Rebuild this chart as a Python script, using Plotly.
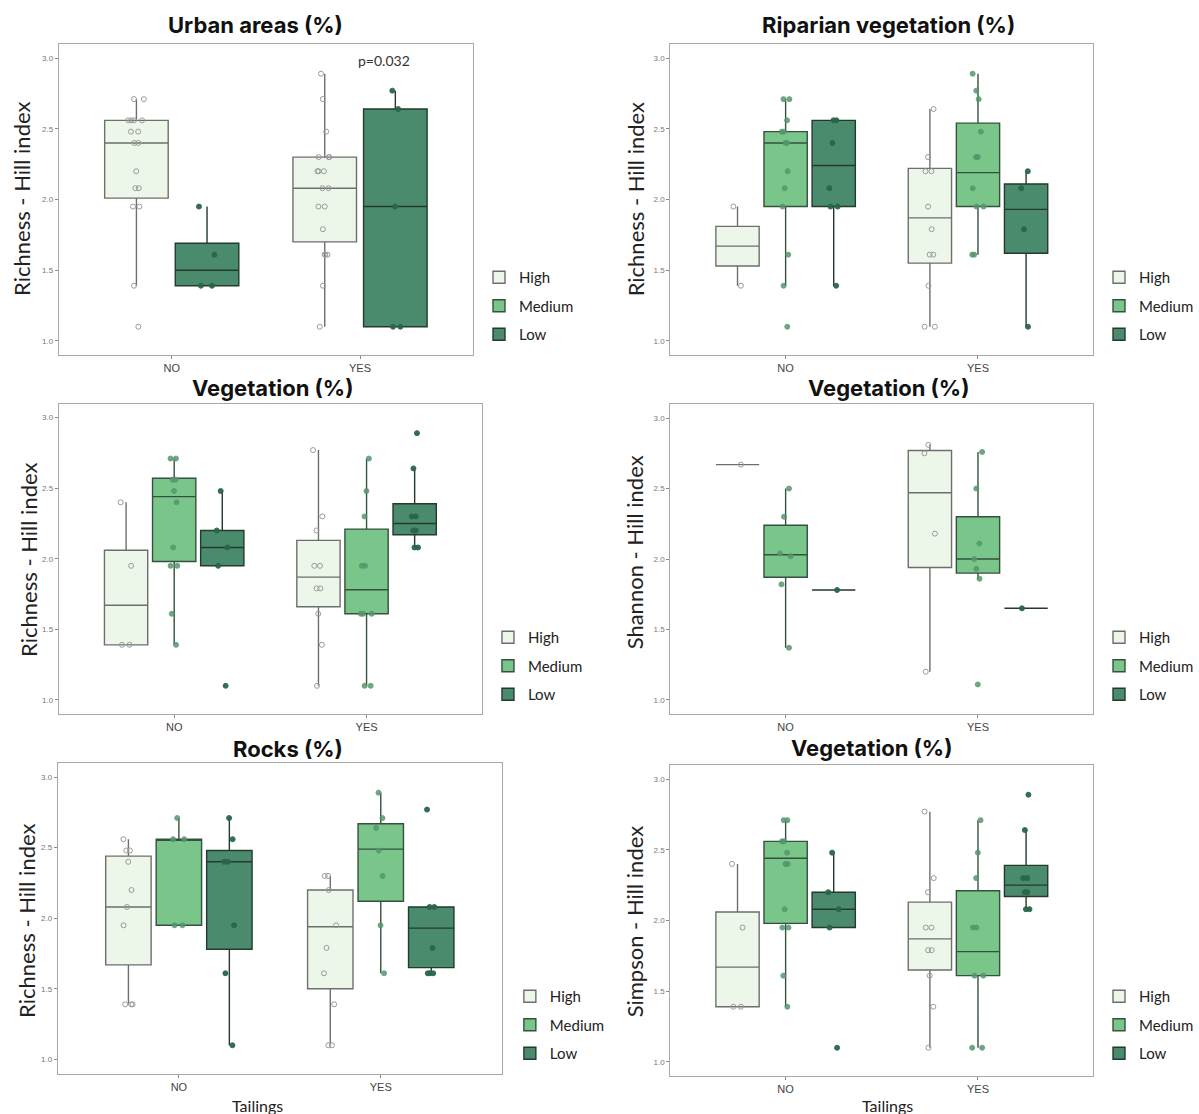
import plotly.graph_objects as go

W, H = 1199, 1114
GROUPS = ["High", "Medium", "Low"]
CATS = ["NO", "YES"]
TICK_VALS = [1.0, 1.5, 2.0, 2.5, 3.0]
TICK_TEXT = ["1.0", "1.5", "2.0", "2.5", "3.0"]

# box stats per category: [lower whisker, q1, median, q3, upper whisker]
# ---- Panel 1: Urban areas (%) ----
urban_high_box = [[1.39, 2.01, 2.40, 2.56, 2.71], [1.10, 1.70, 2.08, 2.30, 2.89]]
urban_high_pts = [[2.71, 2.71, 2.56, 2.56, 2.56, 2.56, 2.48, 2.48, 2.40, 2.40, 2.20, 2.08, 2.08, 1.95, 1.95, 1.39, 1.10],
                  [2.89, 2.71, 2.48, 2.30, 2.30, 2.30, 2.20, 2.20, 2.20, 2.08, 2.08, 1.95, 1.95, 1.79, 1.61, 1.61, 1.61, 1.39, 1.10]]
urban_low_box = [[1.39, 1.39, 1.50, 1.69, 1.95], [1.10, 1.10, 1.95, 2.64, 2.77]]
urban_low_pts = [[1.95, 1.61, 1.39, 1.39], [2.77, 2.64, 1.95, 1.10, 1.10]]

# ---- Panel 2: Riparian vegetation (%) ----
riparian_high_box = [[1.39, 1.53, 1.67, 1.81, 1.95], [1.10, 1.55, 1.87, 2.22, 2.64]]
riparian_high_pts = [[1.95, 1.39], [2.64, 2.30, 2.20, 2.20, 1.95, 1.79, 1.61, 1.61, 1.39, 1.10, 1.10]]
riparian_med_box = [[1.39, 1.95, 2.40, 2.48, 2.71], [1.61, 1.95, 2.19, 2.54, 2.89]]
riparian_med_pts = [[2.71, 2.71, 2.56, 2.48, 2.48, 2.40, 2.40, 2.20, 2.08, 1.95, 1.61, 1.39, 1.10],
                    [2.89, 2.77, 2.71, 2.48, 2.30, 2.30, 2.08, 1.95, 1.95, 1.61, 1.61]]
riparian_low_box = [[1.39, 1.95, 2.24, 2.56, 2.56], [1.10, 1.62, 1.93, 2.11, 2.20]]
riparian_low_pts = [[2.56, 2.56, 2.40, 2.08, 1.95, 1.95, 1.39], [2.20, 2.08, 1.79, 1.10]]

# ---- Panel 3: Vegetation (%) - Richness ----
vegrich_high_box = [[1.39, 1.39, 1.67, 2.06, 2.40], [1.10, 1.66, 1.87, 2.13, 2.77]]
vegrich_high_pts = [[2.40, 1.95, 1.39, 1.39], [2.77, 2.30, 2.20, 1.95, 1.95, 1.79, 1.79, 1.61, 1.39, 1.10]]
vegrich_med_box = [[1.39, 1.98, 2.44, 2.57, 2.71], [1.10, 1.61, 1.78, 2.21, 2.71]]
vegrich_med_pts = [[2.71, 2.71, 2.56, 2.56, 2.48, 2.40, 2.08, 1.95, 1.95, 1.61, 1.39],
                   [2.71, 2.48, 2.30, 1.95, 1.95, 1.61, 1.61, 1.61, 1.10, 1.10]]
vegrich_low_box = [[1.95, 1.95, 2.08, 2.20, 2.48], [2.08, 2.17, 2.25, 2.39, 2.64]]
vegrich_low_pts = [[2.48, 2.20, 2.08, 1.95, 1.10], [2.89, 2.64, 2.30, 2.30, 2.20, 2.20, 2.08, 2.08]]

# ---- Panel 4: Vegetation (%) - Shannon ----
vegshan_high_box = [[2.67, 2.67, 2.67, 2.67, 2.67], [1.20, 1.94, 2.47, 2.77, 2.81]]
vegshan_high_pts = [[2.67], [2.81, 2.75, 2.18, 1.20]]
vegshan_med_box = [[1.37, 1.87, 2.03, 2.24, 2.50], [1.86, 1.90, 2.00, 2.30, 2.76]]
vegshan_med_pts = [[2.50, 2.30, 2.04, 2.02, 1.82, 1.37], [2.76, 2.50, 2.11, 2.00, 1.93, 1.86, 1.11]]
vegshan_low_box = [[1.78, 1.78, 1.78, 1.78, 1.78], [1.65, 1.65, 1.65, 1.65, 1.65]]
vegshan_low_pts = [[1.78], [1.65]]

# ---- Panel 5: Rocks (%) ----
rocks_high_box = [[1.39, 1.67, 2.08, 2.44, 2.56], [1.10, 1.50, 1.94, 2.20, 2.30]]
rocks_high_pts = [[2.56, 2.48, 2.48, 2.40, 2.20, 2.08, 1.95, 1.39, 1.39, 1.39],
                  [2.30, 2.30, 2.20, 1.95, 1.79, 1.61, 1.39, 1.10, 1.10]]
rocks_med_box = [[1.95, 1.95, 2.56, 2.56, 2.71], [1.61, 2.12, 2.49, 2.67, 2.89]]
rocks_med_pts = [[2.71, 2.56, 2.56, 1.95, 1.95], [2.89, 2.71, 2.64, 2.48, 2.30, 1.95, 1.61]]
rocks_low_box = [[1.10, 1.78, 2.40, 2.48, 2.71], [1.61, 1.65, 1.93, 2.08, 2.08]]
rocks_low_pts = [[2.71, 2.56, 2.40, 2.40, 1.95, 1.61, 1.10], [2.77, 2.08, 2.08, 1.79, 1.61, 1.61, 1.61]]

# ---- Panel 6: Vegetation (%) - Simpson ----
vegsimp_high_box = [[1.39, 1.39, 1.67, 2.06, 2.40], [1.10, 1.65, 1.87, 2.13, 2.77]]
vegsimp_high_pts = [[2.40, 1.95, 1.39, 1.39], [2.77, 2.30, 2.20, 1.95, 1.95, 1.79, 1.79, 1.61, 1.39, 1.10]]
vegsimp_med_box = [[1.39, 1.98, 2.44, 2.56, 2.71], [1.10, 1.61, 1.78, 2.21, 2.71]]
vegsimp_med_pts = [[2.71, 2.71, 2.56, 2.56, 2.48, 2.40, 2.40, 2.08, 1.95, 1.95, 1.61, 1.39],
                   [2.71, 2.48, 2.30, 1.95, 1.95, 1.61, 1.61, 1.10, 1.10]]
vegsimp_low_box = [[1.95, 1.95, 2.08, 2.20, 2.48], [2.08, 2.17, 2.25, 2.39, 2.64]]
vegsimp_low_pts = [[2.48, 2.20, 2.08, 1.95, 1.10], [2.89, 2.64, 2.30, 2.30, 2.20, 2.20, 2.08, 2.08]]

TITLES = ["Urban areas (%)", "Riparian vegetation (%)", "Vegetation (%)",
          "Vegetation (%)", "Rocks (%)", "Vegetation (%)"]
YTITLES = ["Richness - Hill index", "Richness - Hill index", "Richness - Hill index",
           "Shannon - Hill index", "Richness - Hill index", "Simpson - Hill index"]

PANEL_DATA = [
    {"High": (urban_high_box, urban_high_pts), "Medium": None, "Low": (urban_low_box, urban_low_pts)},
    {"High": (riparian_high_box, riparian_high_pts), "Medium": (riparian_med_box, riparian_med_pts),
     "Low": (riparian_low_box, riparian_low_pts)},
    {"High": (vegrich_high_box, vegrich_high_pts), "Medium": (vegrich_med_box, vegrich_med_pts),
     "Low": (vegrich_low_box, vegrich_low_pts)},
    {"High": (vegshan_high_box, vegshan_high_pts), "Medium": (vegshan_med_box, vegshan_med_pts),
     "Low": (vegshan_low_box, vegshan_low_pts)},
    {"High": (rocks_high_box, rocks_high_pts), "Medium": (rocks_med_box, rocks_med_pts),
     "Low": (rocks_low_box, rocks_low_pts)},
    {"High": (vegsimp_high_box, vegsimp_high_pts), "Medium": (vegsimp_med_box, vegsimp_med_pts),
     "Low": (vegsimp_low_box, vegsimp_low_pts)},
]

# ---- layout geometry (pixels) ----
PLOT_RECTS = [  # x0, x1, y0(top), y1(bottom)
    (59, 475, 44, 355), (673, 1098, 44, 355),
    (59, 484, 403.5, 714), (673, 1098, 404, 714),
    (58, 504, 763, 1073.5), (673, 1098, 765, 1076),
]
TITLE_POS = [(257, 25), (892, 25), (274, 388), (892, 388), (289, 749), (875, 748)]
YTITLE_POS = [(21, 199), (638, 199), (28, 560), (638, 552), (27, 921), (638, 921)]
LEGEND_POS = [(481, 261), (1104, 261), (490, 621), (1104, 621), (512, 980), (1104, 980)]
XTITLE_POS = [None, None, None, None, (259, 1105), (891, 1105)]

STYLE = {
    "High": dict(fill="#edf7e9", line="#6e6e6e", mcolor="#9a9a9a", symbol="circle-open", opacity=1.0),
    "Medium": dict(fill="#7ac68a", line="#34503e", mcolor="#55966d", symbol="circle", opacity=0.85),
    "Low": dict(fill="#4b8b6d", line="#243a2e", mcolor="#2a6649", symbol="circle", opacity=0.95),
}

TITLE_FONT = dict(family="Inter", size=22, color="#111111", weight="bold")
AXTITLE_FONT = dict(family="Lato", size=22, color="#222222")

fig = go.Figure()

for k, pdata in enumerate(PANEL_DATA):
    n = k + 1
    xa = "x" if n == 1 else f"x{n}"
    ya = "y" if n == 1 else f"y{n}"
    leg = "legend" if n == 1 else f"legend{n}"
    for g in GROUPS:
        st = STYLE[g]
        entry = pdata[g]
        common = dict(
            name=g, xaxis=xa, yaxis=ya, legend=leg, legendgroup=f"p{n}_{g}",
            fillcolor=st["fill"], line=dict(color=st["line"], width=1.4),
            whiskerwidth=0, hoverinfo="skip",
        )
        if entry is None:
            # group absent in this panel: legend-only entry, kept outside the visible value range
            fig.add_trace(go.Box(x=[CATS[0]], y=[-5.0], boxpoints=False,
                                 alignmentgroup=f"legendonly{n}", offsetgroup=g, **common))
            continue
        box, pts = entry
        fig.add_trace(go.Box(
            x=CATS,
            lowerfence=[b[0] for b in box], q1=[b[1] for b in box], median=[b[2] for b in box],
            q3=[b[3] for b in box], upperfence=[b[4] for b in box],
            y=pts, boxpoints="all", pointpos=0, jitter=0.3,
            marker=dict(symbol=st["symbol"], size=5, color=st["mcolor"], opacity=st["opacity"],
                        line=dict(width=1, color=st["mcolor"])),
            alignmentgroup=f"a{n}", offsetgroup=g,
            **common,
        ))

layout = dict(
    width=W, height=H, margin=dict(l=0, r=0, t=0, b=0),
    paper_bgcolor="white", plot_bgcolor="white",
    boxmode="group", boxgap=0.25, boxgroupgap=0.1,
    showlegend=True,
)
annotations = []
for k in range(6):
    n = k + 1
    x0, x1, y0, y1 = PLOT_RECTS[k]
    xkey = "xaxis" if n == 1 else f"xaxis{n}"
    ykey = "yaxis" if n == 1 else f"yaxis{n}"
    layout[xkey] = dict(
        domain=[x0 / W, x1 / W], anchor="y" if n == 1 else f"y{n}",
        type="category", categoryorder="array", categoryarray=CATS, range=[-0.6, 1.6],
        showline=True, mirror=True, linecolor="#a8a8a8", linewidth=1,
        ticks="outside", ticklen=3, tickcolor="#888888",
        tickfont=dict(family="Liberation Sans", size=11, color="#444444"),
        showgrid=False, zeroline=False, fixedrange=True,
    )
    layout[ykey] = dict(
        domain=[1 - y1 / H, 1 - y0 / H], anchor="x" if n == 1 else f"x{n}",
        range=[0.9, 3.1], tickvals=TICK_VALS, ticktext=TICK_TEXT,
        showline=True, mirror=True, linecolor="#a8a8a8", linewidth=1,
        ticks="outside", ticklen=3, tickcolor="#888888",
        tickfont=dict(family="Liberation Sans", size=8, color="#777777"),
        showgrid=False, zeroline=False, fixedrange=True,
    )
    lx, ly = LEGEND_POS[k]
    layout["legend" if n == 1 else f"legend{n}"] = dict(
        x=lx / W, y=1 - ly / H, xanchor="left", yanchor="top",
        font=dict(family="Lato", size=15, color="#222222"),
        bgcolor="rgba(0,0,0,0)", traceorder="grouped", tracegroupgap=6,
    )
    tx, ty = TITLE_POS[k]
    annotations.append(dict(text=TITLES[k], x=tx / W, y=1 - ty / H, xref="paper", yref="paper",
                            xanchor="center", yanchor="middle", showarrow=False, font=TITLE_FONT))
    ax_, ay_ = YTITLE_POS[k]
    annotations.append(dict(text=YTITLES[k], x=ax_ / W, y=1 - ay_ / H, xref="paper", yref="paper",
                            xanchor="center", yanchor="middle", textangle=-90, showarrow=False,
                            font=AXTITLE_FONT))
    if XTITLE_POS[k] is not None:
        px, py = XTITLE_POS[k]
        annotations.append(dict(text="Tailings", x=px / W, y=1 - py / H, xref="paper", yref="paper",
                                xanchor="center", yanchor="middle", showarrow=False,
                                font=dict(family="Lato", size=16, color="#222222")))

annotations.append(dict(text="p=0.032", x=386 / W, y=1 - 61 / H, xref="paper", yref="paper",
                        xanchor="center", yanchor="middle", showarrow=False,
                        font=dict(family="Lato", size=14, color="#333333")))
layout["annotations"] = annotations

fig.update_layout(**layout)
fig.write_html("out.html")
